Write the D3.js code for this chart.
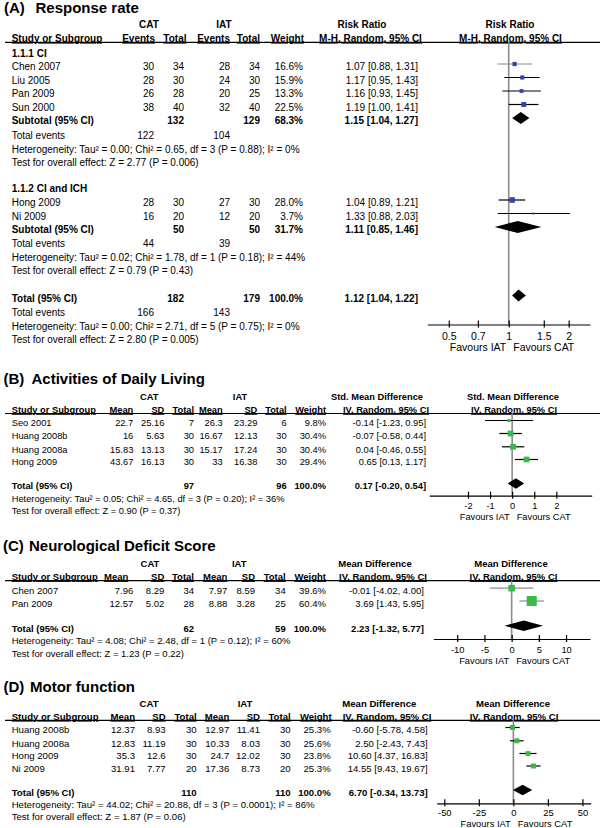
<!DOCTYPE html>
<html><head><meta charset="utf-8">
<script src="https://cdn.jsdelivr.net/npm/d3@7"></script>
<style>body{margin:0;background:#fff}svg{display:block}</style>
</head><body>
<svg id="chart" width="600" height="828"></svg>
<script>
// ================= DATA =================
// Panel A – Response rate (Risk Ratio, M-H Random)
const aGroups = ["1.1.1 CI", "1.1.2 CI and ICH"];
const aStudies = [["Chen 2007","Liu 2005","Pan 2009","Sun 2000"],["Hong 2009","Ni 2009"]];
const aCatEvents = [[30,28,26,38],[28,16]];
const aCatTotal  = [[34,30,28,40],[30,20]];
const aIatEvents = [[28,24,20,32],[27,12]];
const aIatTotal  = [[34,30,25,40],[30,20]];
const aWeight    = [[16.6,15.9,13.3,22.5],[28.0,3.7]];
const aEst       = [[1.07,1.17,1.16,1.19],[1.04,1.33]];
const aLo        = [[0.88,0.95,0.93,1.00],[0.89,0.88]];
const aHi        = [[1.31,1.43,1.45,1.41],[1.21,2.03]];
// summaries: subgroup 1, subgroup 2, overall
const aSumCatTotal  = [132, 50, 182];
const aSumIatTotal  = [129, 50, 179];
const aSumCatEvents = [122, 44, 166];
const aSumIatEvents = [104, 39, 143];
const aSumWeight    = [68.3, 31.7, 100.0];
const aSumEst = [1.15, 1.11, 1.12];
const aSumLo  = [1.04, 0.85, 1.04];
const aSumHi  = [1.27, 1.46, 1.22];
const aHet  = ["Tau² = 0.00; Chi² = 0.65, df = 3 (P = 0.88); I² = 0%",
               "Tau² = 0.02; Chi² = 1.78, df = 1 (P = 0.18); I² = 44%",
               "Tau² = 0.00; Chi² = 2.71, df = 5 (P = 0.75); I² = 0%"];
const aTest = ["Z = 2.77 (P = 0.006)", "Z = 0.79 (P = 0.43)", "Z = 2.80 (P = 0.005)"];
const aTicks = [0.5, 0.7, 1, 1.5, 2];
const aDomain = [0.39, 2.56];

// Panel B – Activities of Daily Living (Std. Mean Difference)
const bStudies = ["Seo 2001","Huang 2008b","Huang 2008a","Hong 2009"];
const bCatMean = [22.7, 16, 15.83, 43.67];
const bCatSD   = [25.16, 5.63, 13.13, 16.13];
const bCatN    = [7, 30, 30, 30];
const bIatMean = [26.3, 16.67, 15.17, 33];
const bIatSD   = [23.29, 12.13, 17.24, 16.38];
const bIatN    = [6, 30, 30, 30];
const bWeight  = [9.8, 30.4, 30.4, 29.4];
const bEst = [-0.14, -0.07, 0.04, 0.65];
const bLo  = [-1.23, -0.58, -0.46, 0.13];
const bHi  = [0.95, 0.44, 0.55, 1.17];
const bTotal = [97, 96, 100.0, 0.17, -0.20, 0.54];
const bHet  = "Tau² = 0.05; Chi² = 4.65, df = 3 (P = 0.20); I² = 36%";
const bTest = "Z = 0.90 (P = 0.37)";
const bTicks = [-2, -1, 0, 1, 2];
const bDomain = [-3.75, 3.6];

// Panel C – Neurological Deficit Score (Mean Difference)
const cStudies = ["Chen 2007","Pan 2009"];
const cCatMean = [7.96, 12.57];
const cCatSD   = [8.29, 5.02];
const cCatN    = [34, 28];
const cIatMean = [7.97, 8.88];
const cIatSD   = [8.59, 3.28];
const cIatN    = [34, 25];
const cWeight  = [39.6, 60.4];
const cEst = [-0.01, 3.69];
const cLo  = [-4.02, 1.43];
const cHi  = [4.00, 5.95];
const cTotal = [62, 59, 100.0, 2.23, -1.32, 5.77];
const cHet  = "Tau² = 4.08; Chi² = 2.48, df = 1 (P = 0.12); I² = 60%";
const cTest = "Z = 1.23 (P = 0.22)";
const cTicks = [-10, -5, 0, 5, 10];
const cDomain = [-14.4, 14.4];

// Panel D – Motor function (Mean Difference)
const dStudies = ["Huang 2008b","Huang 2008a","Hong 2009","Ni 2009"];
const dCatMean = [12.37, 12.83, 35.3, 31.91];
const dCatSD   = [8.93, 11.19, 12.6, 7.77];
const dCatN    = [30, 30, 30, 20];
const dIatMean = [12.97, 10.33, 24.7, 17.36];
const dIatSD   = [11.41, 8.03, 12.02, 8.73];
const dIatN    = [30, 30, 30, 20];
const dWeight  = [25.3, 25.6, 23.8, 25.3];
const dEst = [-0.60, 2.50, 10.60, 14.55];
const dLo  = [-5.78, -2.43, 4.37, 9.43];
const dHi  = [4.58, 7.43, 16.83, 19.67];
const dTotal = [110, 110, 100.0, 6.70, -0.34, 13.73];
const dHet  = "Tau² = 44.02; Chi² = 20.88, df = 3 (P = 0.0001); I² = 86%";
const dTest = "Z = 1.87 (P = 0.06)";
const dTicks = [-50, -25, 0, 25, 50];
const dDomain = [-55.5, 56];

// ================= DRAWING =================
const svg = d3.select("#chart");
const FONT = '"Liberation Sans", Arial, Helvetica, sans-serif';
const BLUE = "#3444a9", GREEN = "#38b94a";
const grayCI = new Set(["A|Chen 2007", "C|Chen 2007", "C|Pan 2009"]);

function T(x, cy, s, o = {}) {
  const fs = o.size || 10;
  const t = svg.append("text")
    .attr("x", x).attr("y", cy + 0.36 * fs)
    .attr("font-family", FONT).attr("font-size", fs)
    .attr("font-weight", o.bold ? "bold" : "normal")
    .attr("text-anchor", o.anchor || "start")
    .attr("fill", "#000").text(s);
  if (o.ul) t.style("text-decoration", "underline");
  return t;
}
const f2 = v => v.toFixed(2);
const eff = (e, l, h) => `${f2(e)} [${f2(l)}, ${f2(h)}]`;
const pct = w => w.toFixed(1) + "%";

function frame(L) {
  const fs = L.fs;
  T(L.labelX, L.titleY, L.label, {size: 15, bold: true});
  T(L.titleX, L.titleY, L.title, {size: 15, bold: true});
  T(L.catX, L.topY, "CAT", {size: fs, bold: true, anchor: "middle"});
  T(L.iatX, L.topY, "IAT", {size: fs, bold: true, anchor: "middle"});
  T(L.measX, L.topY, L.measure, {size: fs, bold: true, anchor: "middle"});
  T(L.plotMeasX, L.topY, L.measure, {size: fs, bold: true, anchor: "middle"});
  T(11.7, L.hdrY, "Study or Subgroup", {size: fs, bold: true, ul: true});
  L.colHdr.forEach((h, i) => T(L.hdrX[i], L.hdrY, h, {size: fs, bold: true, anchor: "end", ul: true}));
  T(L.weightHdrX, L.hdrY, "Weight", {size: fs, bold: true, anchor: "end", ul: true});
  T(L.methX, L.hdrY, L.method, {size: fs, bold: true, anchor: "middle", ul: true});
  T(L.plotMethX, L.hdrY, L.method, {size: fs, bold: true, anchor: "middle", ul: true});
  svg.append("line").attr("x1", 5).attr("x2", 600).attr("y1", L.lineY).attr("y2", L.lineY)
    .attr("stroke", "#000").attr("stroke-width", 1.2);
  const x0 = L.x(L.nul);
  svg.append("line").attr("x1", x0).attr("x2", x0).attr("y1", L.lineY).attr("y2", L.axisY)
    .attr("stroke", "#8c8c8c").attr("stroke-width", 1.6);
  const g = svg.append("g").attr("transform", `translate(0,${L.axisY})`)
    .call(d3.axisBottom(L.x).tickValues(L.ticks).tickFormat(d => String(d))
      .tickSizeInner(-4).tickSizeOuter(0));
  g.attr("font-family", FONT).attr("font-size", L.axFs);
  g.select(".domain").attr("stroke", "#000").attr("stroke-width", 1.2);
  g.selectAll(".tick line").attr("y1", -4).attr("y2", 3).attr("stroke", "#000").attr("stroke-width", 1.2);
  g.selectAll(".tick text").attr("y", L.tickY - L.axisY + 0.36 * L.axFs).attr("dy", null).attr("fill", "#000");
  T(x0 - 2.5, L.favY, "Favours IAT", {size: L.axFs, anchor: "end"});
  T(x0 + 4.5, L.favY, "Favours CAT", {size: L.axFs});
}

function studyRow(L, cy, name, vals, w, e, lo, hi) {
  T(11.7, cy, name, {size: L.fs});
  vals.forEach((v, i) => { if (v !== "") T(L.colX[i], cy, String(v), {size: L.fs, anchor: "end"}); });
  T(L.weightX, cy, pct(w), {size: L.fs, anchor: "end"});
  T(L.effX, cy, eff(e, lo, hi), {size: L.fs, anchor: "end"});
  const my = cy + L.markOff;
  svg.append("line").attr("x1", L.x(lo)).attr("x2", L.x(hi)).attr("y1", my).attr("y2", my)
    .attr("stroke", grayCI.has(L.key + "|" + name) ? "#8c8c8c" : "#000").attr("stroke-width", 1.2);
  const s = L.size(w);
  svg.append("rect").attr("x", L.x(e) - s / 2).attr("y", my - s / 2).attr("width", s).attr("height", s)
    .attr("fill", L.color);
}

function summaryRow(L, cy, label, vals, w, e, lo, hi) {
  T(11.7, cy, label, {size: L.fs, bold: true});
  vals.forEach((v, i) => { if (v !== "") T(L.colX[i], cy, String(v), {size: L.fs, bold: true, anchor: "end"}); });
  T(L.weightX, cy, pct(w), {size: L.fs, bold: true, anchor: "end"});
  T(L.effX, cy, eff(e, lo, hi), {size: L.fs, bold: true, anchor: "end"});
  const my = cy + L.markOff, h = L.dh;
  svg.append("path")
    .attr("d", d3.line()([[L.x(lo), my], [L.x(e), my - h], [L.x(hi), my], [L.x(e), my + h]]) + "Z")
    .attr("fill", "#000");
}

// ---------- Panel A ----------
const LA = {key: "A", label: "(A)", labelX: 4, title: "Response rate", titleX: 35.5, titleY: 8,
  topY: 24, hdrY: 38, lineY: 42.3, catX: 149, iatX: 224,
  measure: "Risk Ratio", measX: 362, plotMeasX: 510,
  method: "M-H, Random, 95% CI", methX: 370.5, plotMethX: 510.5,
  colHdr: ["Events", "Total", "Events", "Total"], hdrX: [155, 186.5, 230, 260], colX: [154, 184, 230, 260],
  weightHdrX: 304, weightX: 303, effX: 418, fs: 10, axFs: 10.5,
  axisY: 324.5, tickY: 336, favY: 347.5,
  x: d3.scaleLog().domain(aDomain).range([427.3, 590]), nul: 1, ticks: aTicks,
  markOff: -2.5, dh: 6, size: d3.scaleSqrt().domain([0, 28]).range([0, 5.5]), color: BLUE};
frame(LA);
const aGroupY = [53, 188];
const aStudyY = [[66.5, 80, 93.5, 107], [202.5, 216]];
const aSumY = [120.5, 229.5, 298];
const aEventsY = [135.5, 243.5, 312.5];
const aHetY = [149, 257, 326];
const aTestY = [162.5, 270.5, 339.5];
function aSummary(k, label) {
  summaryRow(LA, aSumY[k], label, ["", aSumCatTotal[k], "", aSumIatTotal[k]], aSumWeight[k], aSumEst[k], aSumLo[k], aSumHi[k]);
  T(11.7, aEventsY[k], "Total events", {size: LA.fs});
  T(LA.colX[0], aEventsY[k], String(aSumCatEvents[k]), {size: LA.fs, anchor: "end"});
  T(LA.colX[2], aEventsY[k], String(aSumIatEvents[k]), {size: LA.fs, anchor: "end"});
  T(11.7, aHetY[k], "Heterogeneity: " + aHet[k], {size: LA.fs});
  T(11.7, aTestY[k], "Test for overall effect: " + aTest[k], {size: LA.fs});
}
aGroups.forEach((gname, gi) => {
  T(11.7, aGroupY[gi], gname, {size: LA.fs, bold: true});
  aStudies[gi].forEach((s, i) => studyRow(LA, aStudyY[gi][i], s,
    [aCatEvents[gi][i], aCatTotal[gi][i], aIatEvents[gi][i], aIatTotal[gi][i]],
    aWeight[gi][i], aEst[gi][i], aLo[gi][i], aHi[gi][i]));
  aSummary(gi, "Subtotal (95% CI)");
});
aSummary(2, "Total (95% CI)");

// ---------- Continuous panels ----------
function contPanel(L, studies, cm, cs, cn, im, is, inn, w, e, lo, hi, tot, het, test, rowsY, totY, hetY, testY) {
  frame(L);
  studies.forEach((s, i) => studyRow(L, rowsY[i], s, [cm[i], cs[i], cn[i], im[i], is[i], inn[i]], w[i], e[i], lo[i], hi[i]));
  summaryRow(L, totY, "Total (95% CI)", ["", "", tot[0], "", "", tot[1]], tot[2], tot[3], tot[4], tot[5]);
  T(11.7, hetY, "Heterogeneity: " + het, {size: L.fs});
  T(11.7, testY, "Test for overall effect: " + test, {size: L.fs});
}
const contHdr = ["Mean", "SD", "Total", "Mean", "SD", "Total"];

const LB = {key: "B", label: "(B)", labelX: 3.5, title: "Activities of Daily Living", titleX: 31.5, titleY: 379,
  topY: 396.5, hdrY: 409.5, lineY: 413.5, catX: 149.3, iatX: 240,
  measure: "Std. Mean Difference", measX: 377, plotMeasX: 513,
  method: "IV, Random, 95% CI", methX: 386, plotMethX: 514,
  colHdr: contHdr, hdrX: [133.3, 164.3, 194, 222.7, 257.3, 286.7], colX: [133.3, 164.3, 194, 222.7, 257.3, 286.7],
  weightHdrX: 326, weightX: 326, effX: 426, fs: 9.3, axFs: 9.3,
  axisY: 495.7, tickY: 505.7, favY: 516.7,
  x: d3.scaleLinear().domain(bDomain).range([429.3, 591.7]), nul: 0, ticks: bTicks,
  markOff: -2.5, dh: 5.2, size: d3.scaleSqrt().domain([0, 30.4]).range([0, 5.8]), color: GREEN};
contPanel(LB, bStudies, bCatMean, bCatSD, bCatN, bIatMean, bIatSD, bIatN, bWeight, bEst, bLo, bHi, bTotal, bHet, bTest,
  [423, 436, 449.3, 462], 486, 498.5, 511);

const LC = {key: "C", label: "(C)", labelX: 3, title: "Neurological Deficit Score", titleX: 29, titleY: 546,
  topY: 563.3, hdrY: 576.5, lineY: 580.7, catX: 150, iatX: 239.3,
  measure: "Mean Difference", measX: 375, plotMeasX: 511,
  method: "IV, Random, 95% CI", methX: 383, plotMethX: 513.5,
  colHdr: contHdr, hdrX: [128.3, 164.3, 194, 227.3, 255, 285.7], colX: [133.3, 164.3, 194, 227.3, 255, 285.7],
  weightHdrX: 326, weightX: 326, effX: 424, fs: 9.5, axFs: 9.3,
  axisY: 639, tickY: 649.5, favY: 660.7,
  x: d3.scaleLinear().domain(cDomain).range([433.3, 590]), nul: 0, ticks: cTicks,
  markOff: -2.5, dh: 5.2, size: d3.scaleLinear().domain([0, 60.4]).range([0, 10]), color: GREEN};
contPanel(LC, cStudies, cCatMean, cCatSD, cCatN, cIatMean, cIatSD, cIatN, cWeight, cEst, cLo, cHi, cTotal, cHet, cTest,
  [590.7, 603.5], 628.3, 640.7, 653.3);

const LD = {key: "D", label: "(D)", labelX: 3.5, title: "Motor function", titleX: 30, titleY: 687,
  topY: 703.5, hdrY: 716.2, lineY: 720.3, catX: 149, iatX: 245,
  measure: "Mean Difference", measX: 379.3, plotMeasX: 513,
  method: "IV, Random, 95% CI", methX: 387, plotMethX: 514,
  colHdr: contHdr, hdrX: [135, 165.7, 196.7, 229.3, 260, 290.7], colX: [135, 165.7, 196.7, 229.3, 260, 290.7],
  weightHdrX: 331.7, weightX: 330.7, effX: 427.7, fs: 9.6, axFs: 9.4,
  axisY: 803.3, tickY: 812.7, favY: 824,
  x: d3.scaleLinear().domain(dDomain).range([436.7, 590.7]), nul: 0, ticks: dTicks,
  markOff: -2.5, dh: 5.2, size: d3.scaleSqrt().domain([0, 25.6]).range([0, 5]), color: GREEN};
contPanel(LD, dStudies, dCatMean, dCatSD, dCatN, dIatMean, dIatSD, dIatN, dWeight, dEst, dLo, dHi, dTotal, dHet, dTest,
  [730, 743.3, 756, 768.5], 792.5, 804.5, 816.5);
</script>
</body></html>
